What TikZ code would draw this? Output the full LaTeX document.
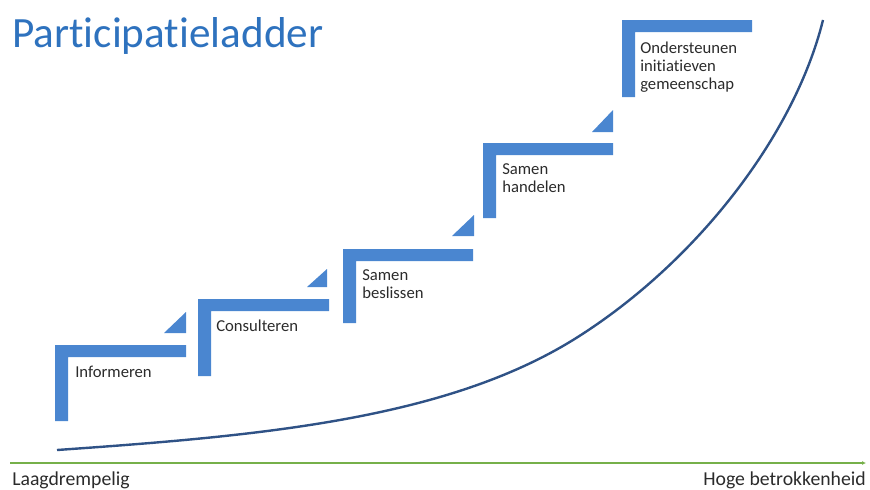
\documentclass[tikz,border=0pt]{standalone}
\usepackage{fontspec}
\setmainfont{Carlito}[Ligatures=NoCommon]
\usetikzlibrary{arrows.meta,positioning,calc}
\definecolor{Bar}{HTML}{4A86D0}
\definecolor{Heading}{HTML}{2E72BE}
\definecolor{Curve}{HTML}{2F5286}
\definecolor{Axis}{HTML}{76B04A}
\definecolor{Ink}{HTML}{2B2B2B}
\tikzset{
 bar/.style={fill=Bar,draw=none},
 lbl/.style={anchor=base west,align=left,inner sep=0pt,text=Ink,font=\fontsize{12.5}{13.5}\selectfont},
 axlbl/.style={inner sep=0pt,text=Ink,font=\fontsize{14.8}{16}\selectfont},
 growth/.style={draw=Curve,line width=1.8pt},
 axis/.style={-{Latex[length=3pt,width=3pt]},draw=Axis,line width=1pt}
}
\begin{document}
\begin{tikzpicture}[x=0.75pt,y=-0.75pt]
\useasboundingbox (0,0) rectangle (870,489);
\node[anchor=base west,inner sep=0pt,text=Heading,font=\fontsize{32.4}{36}\selectfont] (title) at (12,47) {Participatieladder};
% treden: links/boven/rechts/onder
\foreach \l/\t/\r/\b in {55/345/186/421,198/299/329/376,343/249/473/323,483/143/613/218,622/20/752/97}
 \fill[bar] (\l,\b) -- (\l,\t) -- (\r,\t) -- (\r,\t+12) -- (\l+13,\t+12) -- (\l+13,\b) -- cycle;
% driehoekjes tussen de treden
\foreach \l/\b/\r/\a in {164/333/186/312,307/287/327/269,452/236/474/215,592/132/613/110}
 \fill[bar] (\l,\b) -- (\r,\b) -- (\r,\a) -- cycle;
\node[lbl] (inf) at (75,377) {Informeren};
\node[lbl] (con) at (216,331) {Consulteren};
\node[lbl] (bes) at (362,298) {Samen\\beslissen};
\node[lbl] (han) at (502,192) {Samen\\handelen};
\node[lbl] (ond) at (640,89) {Ondersteunen\\initiatieven\\gemeenschap};
\draw[growth] (57,450) .. controls (257,436) and (443,420) .. (573,340)
 .. controls (694,265) and (794,137) .. (823,20);
\coordinate (ax0) at (10,463);
\coordinate (ax1) at (866,463);
\draw[axis] (ax0) -- (ax1);
\node[axlbl,anchor=base west] (laag) at (12,485) {Laagdrempelig};
\node[axlbl,anchor=base east] (hoog) at (866,485) {Hoge betrokkenheid};
\end{tikzpicture}
\end{document}
